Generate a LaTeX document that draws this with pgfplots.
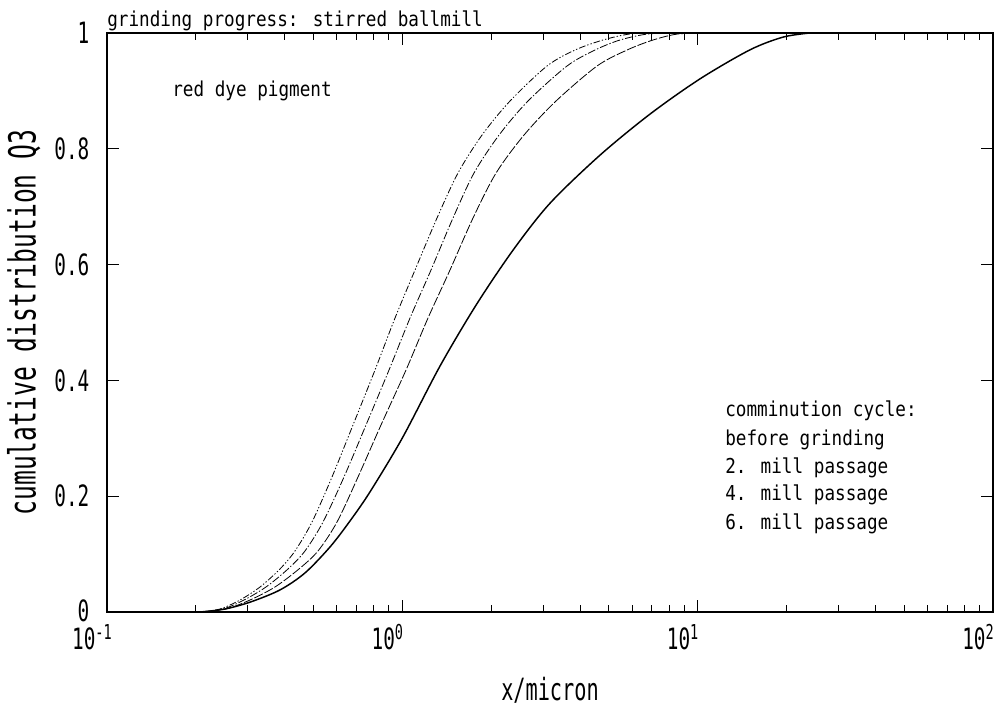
\documentclass[border=0pt]{standalone}
\usepackage{fontspec}
\setmainfont{DejaVu Sans Mono}
\newfontfamily\smallfont[FakeStretch=0.86]{DejaVu Sans Mono}
\newfontfamily\bigfont[FakeStretch=0.66]{DejaVu Sans Mono}
\usepackage{pgfplots}
\pgfplotsset{compat=1.18}

\begin{document}
\begin{tikzpicture}
\begin{axis}[
  scale only axis,
  width=664.5pt, height=434.25pt,
  xmode=log,
  xmin=0.1, xmax=100, ymin=0, ymax=1,
  xtick={0.1,1,10,100},
  xticklabels={10\textsuperscript{-1},10\textsuperscript{0},10\textsuperscript{1},10\textsuperscript{2}},
  minor xtick={0.2,0.3,0.4,0.5,0.6,0.7,0.8,0.9,2,3,4,5,6,7,8,9,20,30,40,50,60,70,80,90},
  ytick={0,0.2,0.4,0.6,0.8,1},
  yticklabels={\raisebox{2pt}{0},0.2,0.4,0.6,0.8,1},
  tick align=inside,
  major tick length=9pt, minor tick length=5pt,
  tick style={black, line width=0.7pt},
  axis line style={line width=1pt},
  ticklabel style={font=\fontsize{22}{24}\bigfont, inner sep=1pt},
  xticklabel style={yshift=-8pt, xshift=-11pt},
  yticklabel style={xshift=-12pt},
  xlabel={x/micron},
  xlabel style={at={(axis description cs:0.5,-0.135)}, anchor=center, font=\fontsize{23}{25}\bigfont},
  ylabel={cumulative distribution Q3},
  ylabel style={at={(axis description cs:-0.094,0.5)}, anchor=center, font=\fontsize{28}{30}\bigfont},
  clip mode=individual,
]
% before grinding
\addplot[black, line width=1.1pt, smooth, tension=0.5] coordinates {
  (0.2065,0) (0.25,0.005) (0.305,0.017) (0.385,0.038) (0.468,0.0674) (0.569,0.1123)
  (0.665,0.1572) (0.777,0.2073) (1.0,0.3005) (1.342,0.4249) (1.777,0.530) (2.371,0.625)
  (3.163,0.706) (4.67,0.789) (6.90,0.860) (10.2,0.921) (15.05,0.971) (19.5,0.993) (24.0,1)
};
% 2. mill passage
\addplot[black, line width=0.6pt, smooth, tension=0.5, dash pattern=on 7pt off 1.5pt] coordinates {
  (0.2065,0) (0.2529,0.0052) (0.3050,0.0207) (0.3706,0.0432) (0.4468,0.0743) (0.5182,0.1054)
  (0.6010,0.1554) (0.7079,0.2332) (0.8469,0.3230) (1.0293,0.4180) (1.2219,0.5078) (1.4504,0.5907)
  (1.7355,0.6805) (2.0771,0.7582) (2.5831,0.8238) (3.3159,0.8826) (4.5637,0.9430) (5.7673,0.9706)
  (7.0632,0.9879) (8.5826,0.9983) (11.014,1)
};
% 4. mill passage
\addplot[black, line width=0.6pt, smooth, tension=0.5, dash pattern=on 6pt off 1.5pt on 1pt off 1.5pt] coordinates {
  (0.2065,0) (0.2471,0.0052) (0.2911,0.0207) (0.3455,0.0432) (0.4101,0.0743) (0.4682,0.1054)
  (0.5388,0.1554) (0.6347,0.2332) (0.7535,0.3230) (0.9015,0.4180) (1.0619,0.5078) (1.2508,0.5907)
  (1.4847,0.6805) (1.7491,0.7582) (2.1263,0.8238) (2.6650,0.8826) (3.6124,0.9430) (4.4930,0.9706)
  (5.4605,0.9879) (6.7920,0.9983) (8.7177,1)
};
% 6. mill passage
\addplot[black, line width=0.6pt, smooth, tension=0.5, dash pattern=on 5pt off 1.5pt on 1pt off 1.5pt on 1pt off 1.5pt] coordinates {
  (0.2065,0) (0.2414,0.0052) (0.2821,0.0207) (0.3298,0.0432) (0.3853,0.0743) (0.4331,0.1054)
  (0.4945,0.1554) (0.5780,0.2332) (0.6809,0.3230) (0.8083,0.4180) (0.9447,0.5078) (1.1041,0.5907)
  (1.3106,0.6805) (1.5437,0.7582) (1.8620,0.8238) (2.3162,0.8826) (3.0903,0.9430) (3.8450,0.9706)
  (4.7819,0.9879) (5.9036,0.9983) (7.4594,1)
};
\node[anchor=base west, font=\fontsize{15.4}{17}\smallfont, inner sep=0pt]
  at (rel axis cs:0,1) [yshift=4.5pt] {grinding progress: stirred ballmill};
\node[anchor=base west, font=\fontsize{15.4}{17}\smallfont, inner sep=0pt]
  at (axis cs:0.166,0.891) {red dye pigment};
\node[anchor=base west, font=\fontsize{15.4}{17}\smallfont, inner sep=0pt] at (axis cs:12.38,0.337) {comminution cycle:};
\node[anchor=base west, font=\fontsize{15.4}{17}\smallfont, inner sep=0pt] at (axis cs:12.38,0.288) {before grinding};
\node[anchor=base west, font=\fontsize{15.4}{17}\smallfont, inner sep=0pt] at (axis cs:12.38,0.240) {2. mill passage};
\node[anchor=base west, font=\fontsize{15.4}{17}\smallfont, inner sep=0pt] at (axis cs:12.38,0.192) {4. mill passage};
\node[anchor=base west, font=\fontsize{15.4}{17}\smallfont, inner sep=0pt] at (axis cs:12.38,0.142) {6. mill passage};
\end{axis}
\pgfresetboundingbox
\path (-80.25pt,-75.75pt) rectangle (674.25pt,459pt);
\end{tikzpicture}
\end{document}
